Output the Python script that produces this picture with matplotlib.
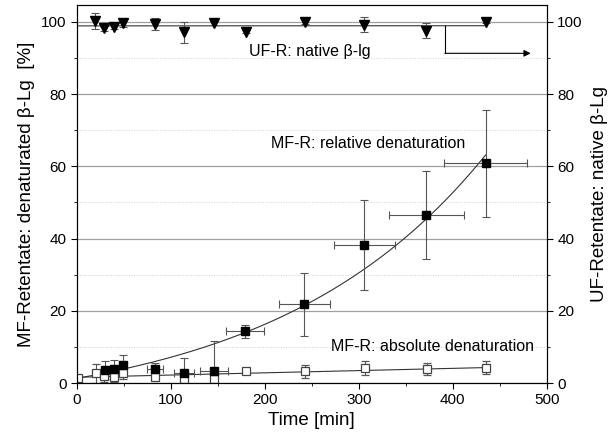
import numpy as np
import matplotlib
matplotlib.use("Agg")
import matplotlib.pyplot as plt
from matplotlib.ticker import MultipleLocator

plt.rcParams["font.family"] = ["Liberation Sans", "DejaVu Sans"]

# ---------------------------------------------------------------------------
# Data
# ---------------------------------------------------------------------------
# MF-R: relative denaturation (filled squares)
rel_t    = [30, 39, 49, 83, 114, 146, 179, 242, 306, 372, 435]
rel_y    = [3.7, 3.9, 5.0, 4.0, 2.8, 3.2, 14.3, 21.8, 38.3, 46.5, 60.8]
rel_yerr = [2.5, 2.5, 2.8, 1.6, 4.2, 8.4, 1.9, 8.8, 12.5, 12.1, 14.7]
rel_xerr = [2, 2, 2, 8.5, 11, 15, 20, 27, 32, 40, 44]

# MF-R: absolute denaturation (open squares)
abs_t    = [1, 20, 29, 39, 49, 83, 114, 146, 180, 243, 307, 373, 435]
abs_y    = [1.3, 2.7, 1.9, 1.8, 2.9, 1.7, 1.1, 1.1, 3.2, 3.2, 4.2, 3.8, 4.3]
abs_yerr = [0.3, 2.6, 1.5, 1.5, 1.8, 0.7, 0.3, 0.3, 0.5, 1.9, 2.0, 1.7, 1.7]

# UF-R: native beta-lg (filled down triangles, right axis)
uf_t    = [19, 29, 39, 49, 83, 114, 146, 180, 243, 306, 372, 435]
uf_y    = [100.3, 98.2, 98.7, 99.6, 99.4, 97.1, 99.6, 97.3, 99.9, 99.2, 97.6, 100.1]
uf_yerr = [2.2, 0.6, 0.6, 1.0, 1.7, 2.9, 0.5, 0.5, 0.5, 2.1, 2.1, 0.5]

# ---------------------------------------------------------------------------
# Fits (exponential growth from the starting value, linear for the rest)
# ---------------------------------------------------------------------------
rt = np.array(rel_t, float)
ry = np.array(rel_y, float)
y0 = abs_y[0]
best = None
for b in np.linspace(0.001, 0.012, 800):
    g = np.exp(b * rt) - 1
    a = np.sum(g * (ry - y0)) / np.sum(g * g)
    res = np.sum((a * g + y0 - ry) ** 2)
    if best is None or res < best[0]:
        best = (res, b, a)
_, b_fit, a_fit = best
t_fit = np.linspace(0, 435, 300)
rel_fit = a_fit * (np.exp(b_fit * t_fit) - 1) + y0

abs_p = np.polyfit(abs_t, abs_y, 1)
uf_p = np.polyfit(uf_t, uf_y, 1)
t_lin = np.array([0, 435])

# ---------------------------------------------------------------------------
# Figure
# ---------------------------------------------------------------------------
fig = plt.figure(figsize=(6.15, 4.48), dpi=100)
ax = fig.add_axes([0.125, 0.145, 0.764, 0.844])

ax.yaxis.set_minor_locator(MultipleLocator(10))
ax.xaxis.set_minor_locator(MultipleLocator(50))
ax.grid(which="major", axis="y", color="#a0a0a0", linewidth=0.9)
ax.grid(which="minor", axis="y", color="#d0d0d0", linewidth=0.7, linestyle=":")
ax.set_axisbelow(True)

ax.plot(t_fit, rel_fit, color="#333333", linewidth=0.8)
ax.plot(t_lin, np.polyval(abs_p, t_lin), color="#333333", linewidth=0.8)
ax.plot(t_lin, np.polyval(uf_p, t_lin), color="#333333", linewidth=0.8)

ekw = dict(ecolor="#555555", elinewidth=0.8, capsize=3, capthick=0.8)
ax.errorbar(abs_t, abs_y, yerr=abs_yerr, fmt="s", mfc="white", mec="#444444",
            ms=6, mew=0.9, **ekw)
ax.errorbar(rel_t, rel_y, yerr=rel_yerr, xerr=rel_xerr, fmt="s", color="black",
            ms=6, **ekw)
ax.errorbar(uf_t, uf_y, yerr=uf_yerr, fmt="v", color="black", ms=7, **ekw)

# arrow pointing to the right axis
ax.plot([392, 392], [99, 91.3], color="black", linewidth=0.8)
ax.annotate("", xy=(483, 91.3), xytext=(391.6, 91.3),
            arrowprops=dict(arrowstyle="-|>", color="black", lw=0.8,
                            mutation_scale=10, shrinkA=0, shrinkB=0))

ax.text(248, 91.8, "UF-R: native β-lg", fontsize=11.5, ha="center", va="center")
ax.text(310, 66.4, "MF-R: relative denaturation", fontsize=11.5,
        ha="center", va="center")
ax.text(378, 10.1, "MF-R: absolute denaturation", fontsize=11.5,
        ha="center", va="center")

ax.set_xlim(0, 500)
ax.set_ylim(0, 104.7)
ax.set_yticks([0, 20, 40, 60, 80, 100])
ax.set_xticks([0, 100, 200, 300, 400, 500])
ax.tick_params(which="both", direction="out", labelsize=11)
ax.tick_params(which="major", length=4)
ax.tick_params(which="minor", length=2.5)
ax.set_xlabel("Time [min]", fontsize=13.5, labelpad=3)
ax.set_ylabel("MF-Retentate: denaturated β-Lg  [%]", fontsize=13.5, labelpad=4)

ax2 = ax.twinx()
ax2.set_ylim(0, 104.7)
ax2.set_yticks([0, 20, 40, 60, 80, 100])
ax2.yaxis.set_minor_locator(MultipleLocator(10))
ax2.tick_params(which="both", direction="out", labelsize=11)
ax2.tick_params(which="major", length=4)
ax2.tick_params(which="minor", length=2.5)
ax2.set_ylabel("UF-Retentate: native β-Lg", fontsize=13.5, labelpad=6)

fig.savefig("out.png", dpi=100)
